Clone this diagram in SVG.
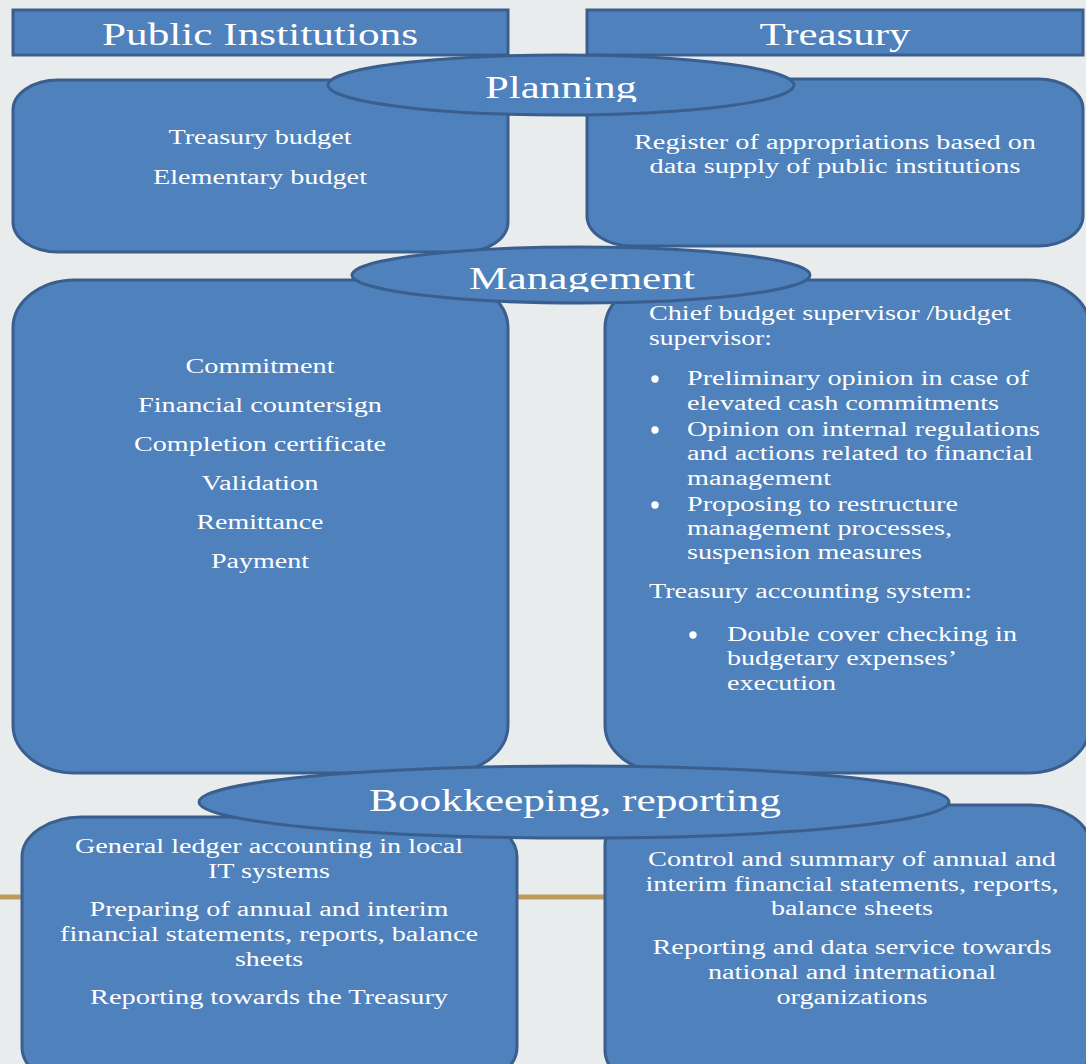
<svg xmlns="http://www.w3.org/2000/svg" width="1086" height="1064" viewBox="0 0 1086 1064">
<defs>
<style>
.box{fill:#4f81bd;stroke:#3a5f8e;stroke-width:3}
.t{font-family:"Liberation Serif","Times New Roman",serif;fill:#ffffff}
.h{font-size:31px;text-anchor:middle}
.b{font-size:20px}
.c{text-anchor:middle}
.dot{fill:#ffffff}
</style>
<clipPath id="clipPlan"><rect x="300" y="55" width="520" height="47"/></clipPath>
<clipPath id="clipMgmt"><rect x="340" y="247" width="480" height="45"/></clipPath>
</defs>
<rect x="0" y="0" width="1086" height="1064" fill="#e9ecec"/>
<g id="headers">
<g id="hdr-public"><rect class="box" x="13" y="10" width="495" height="45"/><text class="t h" x="260" y="45" textLength="316" lengthAdjust="spacingAndGlyphs">Public Institutions</text></g>
<g id="hdr-treasury"><rect class="box" x="587" y="10" width="496" height="45"/><text class="t h" x="835" y="45" textLength="151" lengthAdjust="spacingAndGlyphs">Treasury</text></g>
</g>
<g id="connectors"/>
<g id="plan-left"><rect class="box" x="13" y="80" width="495" height="172" rx="45" ry="30"/>
<text class="t b c" x="260" y="144" textLength="183" lengthAdjust="spacingAndGlyphs">Treasury budget</text>
<text class="t b c" x="260" y="184" textLength="214" lengthAdjust="spacingAndGlyphs">Elementary budget</text></g>
<g id="plan-right"><rect class="box" x="587" y="79" width="496" height="167" rx="45" ry="30"/>
<text class="t b c" x="835" y="149" textLength="402" lengthAdjust="spacingAndGlyphs">Register of appropriations based on</text>
<text class="t b c" x="835" y="173" textLength="371" lengthAdjust="spacingAndGlyphs">data supply of public institutions</text></g>
<g id="planning"><ellipse class="box" cx="561" cy="85" rx="233" ry="30"/>
<text class="t h" x="561" y="98" textLength="152" lengthAdjust="spacingAndGlyphs" clip-path="url(#clipPlan)">Planning</text></g>
<g id="mgmt-left"><rect class="box" x="13" y="280" width="495" height="493" rx="62" ry="48"/>
<text class="t b c" x="260" y="373" textLength="149" lengthAdjust="spacingAndGlyphs">Commitment</text>
<text class="t b c" x="260" y="412" textLength="244" lengthAdjust="spacingAndGlyphs">Financial countersign</text>
<text class="t b c" x="260" y="451" textLength="252" lengthAdjust="spacingAndGlyphs">Completion certificate</text>
<text class="t b c" x="260" y="490" textLength="117" lengthAdjust="spacingAndGlyphs">Validation</text>
<text class="t b c" x="260" y="529" textLength="127" lengthAdjust="spacingAndGlyphs">Remittance</text>
<text class="t b c" x="260" y="568" textLength="98" lengthAdjust="spacingAndGlyphs">Payment</text></g>
<g id="mgmt-right"><rect class="box" x="605" y="280" width="485" height="493" rx="62" ry="48"/>
<text class="t b" x="649" y="320" textLength="362" lengthAdjust="spacingAndGlyphs">Chief budget supervisor /budget</text>
<text class="t b" x="649" y="345" textLength="123" lengthAdjust="spacingAndGlyphs">supervisor:</text>
<circle class="dot" cx="655" cy="379" r="3.7"/>
<text class="t b" x="687" y="385" textLength="342" lengthAdjust="spacingAndGlyphs">Preliminary opinion in case of</text>
<text class="t b" x="687" y="410" textLength="312" lengthAdjust="spacingAndGlyphs">elevated cash commitments</text>
<circle class="dot" cx="655" cy="430" r="3.7"/>
<text class="t b" x="687" y="436" textLength="353" lengthAdjust="spacingAndGlyphs">Opinion on internal regulations</text>
<text class="t b" x="687" y="460" textLength="346" lengthAdjust="spacingAndGlyphs">and actions related to financial</text>
<text class="t b" x="687" y="485" textLength="144" lengthAdjust="spacingAndGlyphs">management</text>
<circle class="dot" cx="655" cy="505" r="3.7"/>
<text class="t b" x="687" y="511" textLength="271" lengthAdjust="spacingAndGlyphs">Proposing to restructure</text>
<text class="t b" x="687" y="535" textLength="265" lengthAdjust="spacingAndGlyphs">management processes,</text>
<text class="t b" x="687" y="559" textLength="235" lengthAdjust="spacingAndGlyphs">suspension measures</text>
<text class="t b" x="649" y="598" textLength="323" lengthAdjust="spacingAndGlyphs">Treasury accounting system:</text>
<circle class="dot" cx="693" cy="635" r="3.7"/>
<text class="t b" x="727" y="641" textLength="290" lengthAdjust="spacingAndGlyphs">Double cover checking in</text>
<text class="t b" x="727" y="665" textLength="230" lengthAdjust="spacingAndGlyphs">budgetary expenses’</text>
<text class="t b" x="727" y="690" textLength="109" lengthAdjust="spacingAndGlyphs">execution</text></g>
<g id="management"><ellipse class="box" cx="581" cy="275" rx="229" ry="28"/>
<text class="t h" x="582" y="289" textLength="226" lengthAdjust="spacingAndGlyphs" clip-path="url(#clipMgmt)">Management</text></g>
<line x1="0" y1="897" x2="606" y2="897" stroke="#bf9b5c" stroke-width="5"/>
<g id="book-left"><rect class="box" x="22" y="817" width="495" height="270" rx="60" ry="40"/>
<text class="t b c" x="269" y="853" textLength="388" lengthAdjust="spacingAndGlyphs">General ledger accounting in local</text>
<text class="t b c" x="269" y="878" textLength="122" lengthAdjust="spacingAndGlyphs">IT systems</text>
<text class="t b c" x="269" y="916" textLength="359" lengthAdjust="spacingAndGlyphs">Preparing of annual and interim</text>
<text class="t b c" x="269" y="941" textLength="418" lengthAdjust="spacingAndGlyphs">financial statements, reports, balance</text>
<text class="t b c" x="269" y="966" textLength="68" lengthAdjust="spacingAndGlyphs">sheets</text>
<text class="t b c" x="269" y="1004" textLength="358" lengthAdjust="spacingAndGlyphs">Reporting towards the Treasury</text></g>
<g id="book-right"><rect class="box" x="605" y="805" width="485" height="285" rx="60" ry="40"/>
<text class="t b c" x="852" y="866" textLength="408" lengthAdjust="spacingAndGlyphs">Control and summary of annual and</text>
<text class="t b c" x="852" y="891" textLength="413" lengthAdjust="spacingAndGlyphs">interim financial statements, reports,</text>
<text class="t b c" x="852" y="915" textLength="162" lengthAdjust="spacingAndGlyphs">balance sheets</text>
<text class="t b c" x="852" y="954" textLength="399" lengthAdjust="spacingAndGlyphs">Reporting and data service towards</text>
<text class="t b c" x="852" y="979" textLength="288" lengthAdjust="spacingAndGlyphs">national and international</text>
<text class="t b c" x="852" y="1004" textLength="151" lengthAdjust="spacingAndGlyphs">organizations</text></g>
<g id="bookkeeping"><ellipse class="box" cx="574" cy="802" rx="375" ry="36"/>
<text class="t h" x="575" y="811" textLength="412" lengthAdjust="spacingAndGlyphs">Bookkeeping, reporting</text></g>
</svg>
